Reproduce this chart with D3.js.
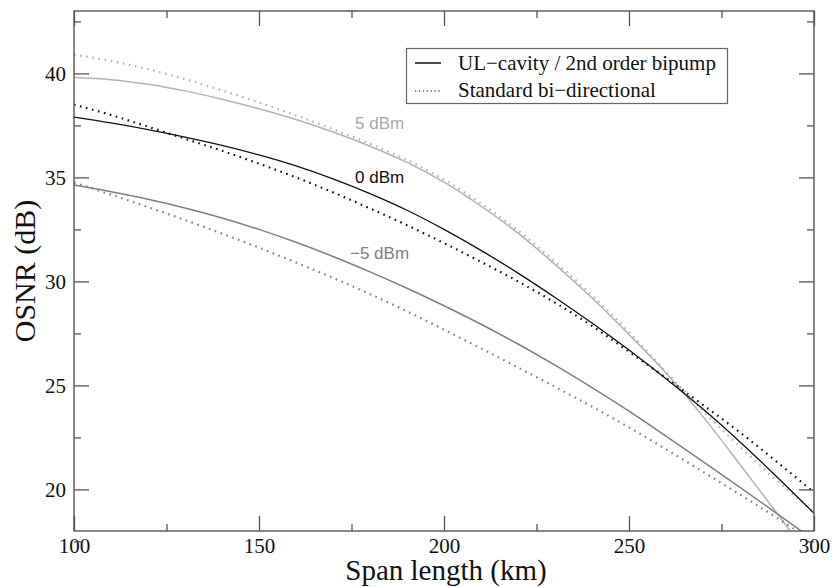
<!DOCTYPE html>
<html><head><meta charset="utf-8">
<script src="https://cdn.jsdelivr.net/npm/d3@7/dist/d3.min.js"></script>
<style>body{margin:0;background:#fff}</style>
</head><body>
<script>
const spans = [100,110,120,130,140,150,160,170,180,190,200,210,220,230,240,250,260,270,280,290,300];
const ul5   = [39.8,39.7,39.48,39.16,38.76,38.3,37.78,37.18,36.5,35.72,34.77,33.62,32.32,30.82,29.2,27.45,25.6,23.5,21.2,18.85,16.47];
const std5  = [40.9,40.6,40.2,39.72,39.18,38.6,37.98,37.32,36.62,35.84,34.9,33.75,32.45,30.95,29.33,27.57,25.65,23.78,22.05,20.42,18.9];
const ul0   = [37.9,37.62,37.3,36.94,36.54,36.08,35.55,34.93,34.22,33.42,32.5,31.49,30.4,29.23,28.0,26.7,25.32,23.86,22.28,20.6,18.85];
const std0  = [38.5,38.0,37.44,36.86,36.28,35.66,35.0,34.28,33.51,32.7,31.84,30.94,30.0,28.98,27.86,26.62,25.36,24.06,22.74,21.32,19.86];
const ulm5  = [34.63,34.31,33.95,33.53,33.05,32.5,31.88,31.2,30.46,29.67,28.83,27.94,26.99,25.97,24.89,23.76,22.56,21.34,20.1,18.84,17.56];
const stdm5 = [34.75,34.17,33.57,32.95,32.3,31.62,30.91,30.17,29.39,28.56,27.68,26.78,25.86,24.93,23.98,22.98,21.93,20.85,19.75,18.63,17.49];
const xTicks = [100,150,200,250,300];
const yTicks = [20,25,30,35,40];
const legendLabels = ["UL\u2212cavity / 2nd order bipump","Standard bi\u2212directional"];
const powerLabels = ["5 dBm","0 dBm","\u22125 dBm"];

(function(){
const W=832,H=587, L=74, R=814, T=11, B=531;
const svg=d3.select("body").append("svg").attr("width",W).attr("height",H);
const x=d3.scaleLinear().domain([100,300]).range([L,R]);
const y=d3.scaleLinear().domain([18,43]).range([B,T]);

svg.append("clipPath").attr("id","clip").append("rect").attr("x",L).attr("y",T).attr("width",R-L).attr("height",B-T);

const series=[
 {v:ul5,c:"#b3b3b3",d:null,w:1.5},
 {v:std5,c:"#b3b3b3",d:"1.6,4.6",w:2.2},
 {v:ul0,c:"#111",d:null,w:1.3},
 {v:std0,c:"#111",d:"1.6,4.6",w:2.2},
 {v:ulm5,c:"#808080",d:null,w:1.5},
 {v:stdm5,c:"#808080",d:"1.6,4.6",w:2.2}
];
const line=d3.line().x((d,i)=>x(spans[i])).y(d=>y(d)).curve(d3.curveMonotoneX);
const g=svg.append("g").attr("clip-path","url(#clip)");
series.forEach(s=>{
 g.append("path").attr("d",line(s.v)).attr("fill","none").attr("stroke",s.c)
  .attr("stroke-width",s.w).attr("stroke-dasharray",s.d);
});

const ax="#555";
const xMinor=d3.range(100,301,25).filter(v=>!xTicks.includes(v));
const yMinor=d3.range(17.5,43.1,2.5).filter(v=>!yTicks.includes(v));
svg.append("g").attr("transform",`translate(0,${B})`)
 .call(d3.axisBottom(x).tickValues(xTicks).tickSize(-15).tickPadding(7).tickFormat(d3.format("d")));
svg.append("g").attr("transform",`translate(0,${B})`)
 .call(d3.axisBottom(x).tickValues(xMinor).tickSize(-7).tickFormat(""));
svg.append("g").attr("transform",`translate(0,${T})`)
 .call(d3.axisTop(x).tickValues(xTicks).tickSize(-15).tickFormat(""));
svg.append("g").attr("transform",`translate(0,${T})`)
 .call(d3.axisTop(x).tickValues(xMinor).tickSize(-7).tickFormat(""));
svg.append("g").attr("transform",`translate(${L},0)`)
 .call(d3.axisLeft(y).tickValues(yTicks).tickSize(-15).tickPadding(8).tickFormat(d3.format("d")));
svg.append("g").attr("transform",`translate(${L},0)`)
 .call(d3.axisLeft(y).tickValues(yMinor).tickSize(-7).tickFormat(""));
svg.append("g").attr("transform",`translate(${R},0)`)
 .call(d3.axisRight(y).tickValues(yTicks).tickSize(-15).tickFormat(""));
svg.append("g").attr("transform",`translate(${R},0)`)
 .call(d3.axisRight(y).tickValues(yMinor).tickSize(-7).tickFormat(""));
svg.selectAll(".domain").remove();
svg.selectAll(".tick line").attr("stroke",ax).attr("stroke-width",1.3);
svg.selectAll(".tick text").attr("font-family","Liberation Serif").attr("font-size",21).attr("fill","#111");
svg.append("rect").attr("x",L).attr("y",T).attr("width",R-L).attr("height",B-T)
 .attr("fill","none").attr("stroke",ax).attr("stroke-width",1.4);

svg.append("text").attr("x",(L+R)/2+2).attr("y",580).attr("text-anchor","middle")
 .attr("font-family","Liberation Serif").attr("font-size",29).attr("fill","#111").text("Span length (km)");
svg.append("text").attr("transform",`translate(35,${(T+B)/2}) rotate(-90)`).attr("text-anchor","middle")
 .attr("font-family","Liberation Serif").attr("font-size",30).attr("fill","#111").text("OSNR (dB)");

const lg=svg.append("g");
lg.append("rect").attr("x",406.5).attr("y",48.5).attr("width",321).attr("height",55)
 .attr("fill","#fff").attr("stroke","#666").attr("stroke-width",1.2);
[[null,63,70],["1.3,2.6",91,97]].forEach((r,i)=>{
 lg.append("line").attr("x1",415).attr("x2",441).attr("y1",r[1]).attr("y2",r[1])
  .attr("stroke","#111").attr("stroke-width",i?1.2:1.5).attr("stroke-dasharray",r[0]);
 lg.append("text").attr("x",458).attr("y",r[2]).attr("font-family","Liberation Serif")
  .attr("font-size",21).attr("fill","#111").text(legendLabels[i]);
});

const pl=[[355,129,"#a8a8a8"],[355,183,"#111"],[350,259,"#808080"]];
pl.forEach((p,i)=>svg.append("text").attr("x",p[0]).attr("y",p[1]).attr("font-family","Liberation Sans")
 .attr("font-size",17).attr("fill",p[2]).text(powerLabels[i]));
})();
</script>
</body></html>
